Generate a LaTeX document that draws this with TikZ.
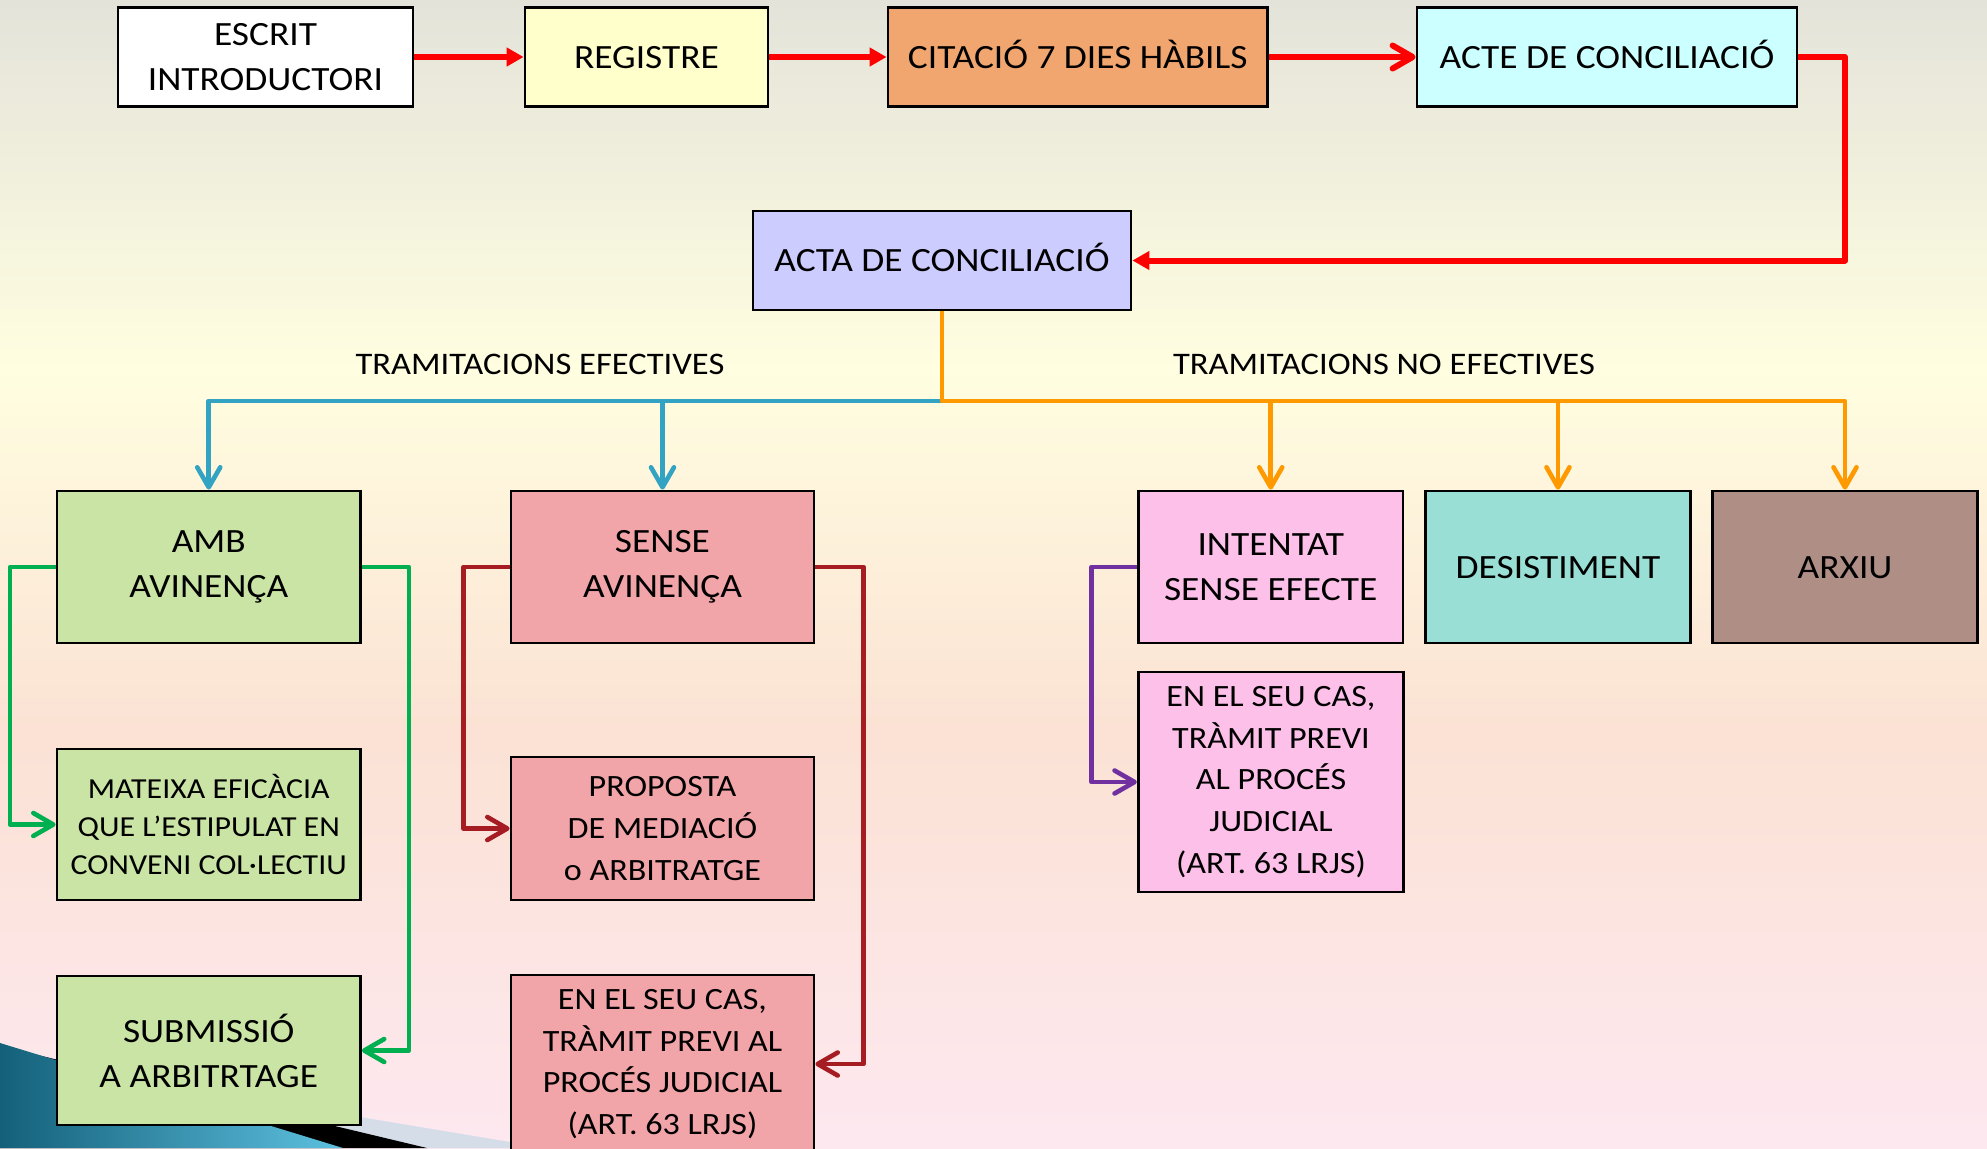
\documentclass[tikz,border=0pt]{standalone}
\usepackage{fontspec}
\setmainfont{Carlito}[FakeStretch=1.1]
\usetikzlibrary{arrows.meta}
\definecolor{bgtop}{HTML}{E4E3DA}
\definecolor{bgyellow}{HTML}{FFFEE0}
\definecolor{bgpeach}{HTML}{FBE2D4}
\definecolor{bgpink}{HTML}{FDE8F0}
\definecolor{tealdark}{HTML}{14607A}
\definecolor{teallight}{HTML}{5DC1E0}
\definecolor{decolight}{HTML}{D5DDE8}
\definecolor{cregistre}{HTML}{FFFFCC}
\definecolor{ccitacio}{HTML}{F2A66F}
\definecolor{cacte}{HTML}{CCFFFF}
\definecolor{cacta}{HTML}{CCCCFF}
\definecolor{cgreen}{HTML}{C9E4A4}
\definecolor{crose}{HTML}{F2A5A8}
\definecolor{cpink}{HTML}{FCC0E9}
\definecolor{cdesist}{HTML}{9ADFD5}
\definecolor{carxiu}{HTML}{AF8E86}
\definecolor{lred}{HTML}{FF0000}
\definecolor{lblue}{HTML}{33A3C4}
\definecolor{lorange}{HTML}{FF9900}
\definecolor{lgreen}{HTML}{00B050}
\definecolor{ldred}{HTML}{A51C22}
\definecolor{lpurple}{HTML}{7030A0}
\pgfdeclareverticalshading{bgshade}{100bp}{color(0bp)=(bgpink); color(25bp)=(bgpink); color(43.2bp)=(bgpeach); color(58.9bp)=(bgyellow); color(75bp)=(bgtop); color(100bp)=(bgtop)}
\newcommand\szA{\fontsize{17}{22.5}\selectfont}
\newcommand\szB{\fontsize{14.5}{19}\selectfont}
\newcommand\szC{\fontsize{15.5}{21}\selectfont}
\newcommand\szD{\fontsize{15.5}{20.8}\selectfont}
\newcommand\szL{\fontsize{15.7}{20}\selectfont}
\tikzset{
  box/.style={draw=black, line width=1.4pt, inner sep=0pt, align=center, font=\szA, text=black},
  oneline/.style={text height=11pt, text depth=0pt},
  lbl/.style={inner sep=0pt, font=\szL, text=black},
  redline/.style={draw=lred, line width=3pt},
  conn/.style={line width=2.3pt, line join=round},
  barb/.style={-{Straight Barb[length=10pt,width=11.5pt,round]}},
  tri/.style={-{Triangle[length=8.5pt,width=9pt]}}
}
\begin{document}
\begin{tikzpicture}[x=0.5pt,y=-0.5pt]
\useasboundingbox (0,0) rectangle (1987,1148);
\shade[shading=bgshade] (0,0) rectangle (1987,1148);
% corner decoration
\fill[decolight] (0,1057) -- (546,1148) -- (0,1148) -- cycle;
\fill[black] (0,1046) -- (427,1148) -- (0,1148) -- cycle;
\shade[left color=tealdark, right color=teallight] (0,1043) -- (343,1148) -- (0,1148) -- cycle;

% top row
\node[box, fill=white, minimum width=147.5pt, minimum height=49.5pt] (escrit) at (265.5,57) {ESCRIT\\INTRODUCTORI};
\node[box, oneline, fill=cregistre, minimum width=121.5pt, minimum height=49.5pt] (registre) at (646.5,57) {REGISTRE};
\node[box, oneline, fill=ccitacio, minimum width=189.75pt, minimum height=49.5pt] (citacio) at (1077.75,57) {CITACIÓ 7 DIES HÀBILS};
\node[box, oneline, fill=cacte, minimum width=190pt, minimum height=49.5pt] (acte) at (1607,57) {ACTE DE CONCILIACIÓ};
\node[box, oneline, fill=cacta, minimum width=189pt, minimum height=49.5pt] (acta) at (942,260.5) {ACTA DE CONCILIACIÓ};

% labels
\node[lbl] (lef) at (540,364) {TRAMITACIONS EFECTIVES};
\node[lbl] (lnoef) at (1384,364) {TRAMITACIONS NO EFECTIVES};
\coordinate (hub) at (942,401);

% row of outcomes
\node[box, fill=cgreen, minimum width=151.75pt, minimum height=76pt] (amb) at (208.75,567) {AMB\\AVINENÇA};
\node[box, fill=crose, minimum width=151.5pt, minimum height=76pt] (sense) at (662.5,567) {SENSE\\AVINENÇA};
\node[box, fill=cpink, minimum width=132.25pt, minimum height=76pt] (intentat) at (1270.75,567) {INTENTAT\\SENSE EFECTE};
\node[box, oneline, fill=cdesist, minimum width=132.25pt, minimum height=76pt] (desist) at (1558,567) {DESISTIMENT};
\node[box, oneline, fill=carxiu, minimum width=132.25pt, minimum height=76pt] (arxiu) at (1845,567) {ARXIU};

% lower boxes
\node[box, fill=cgreen, font=\szB, minimum width=151.75pt, minimum height=75.5pt] (mateixa) at (208.75,824.5) {MATEIXA EFICÀCIA\\QUE L’ESTIPULAT EN\\CONVENI COL·LECTIU};
\node[box, fill=cgreen, minimum width=151.75pt, minimum height=74.5pt] (subm) at (208.75,1050.5) {SUBMISSIÓ\\A ARBITRTAGE};
\node[box, fill=crose, font=\szC, minimum width=151.5pt, minimum height=71.5pt] (proposta) at (662.5,828.5) {PROPOSTA\\DE MEDIACIÓ\\o ARBITRATGE};
\node[box, fill=crose, font=\szD, minimum width=151.5pt, minimum height=89pt] (enelA) at (662.5,1064) {EN EL SEU CAS,\\TRÀMIT PREVI AL\\PROCÉS JUDICIAL\\(ART. 63 LRJS)};
\node[box, fill=cpink, font=\szD, minimum width=132.75pt, minimum height=110pt] (enelB) at (1271,782) {EN EL SEU CAS,\\TRÀMIT PREVI\\AL PROCÉS\\JUDICIAL\\(ART. 63 LRJS)};

% red chain
\draw[redline, tri] (escrit) -- (registre);
\draw[redline, tri] (registre) -- (citacio);
\draw[redline, barb] (citacio) -- (acte);
\draw[redline, tri, line join=round] (acte.east) -- (acte.east -| arxiu.north) |- (acta.east);

% branches
\draw[conn, draw=lblue, barb] (hub) -| (amb.north);
\draw[conn, draw=lblue, barb] (sense.north |- hub) -- (sense.north);
\draw[conn, draw=lorange, barb] (acta.south) -- (hub) -| (arxiu.north);
\draw[conn, draw=lorange, barb] (intentat.north |- hub) -- (intentat.north);
\draw[conn, draw=lorange, barb] (desist.north |- hub) -- (desist.north);

% side connectors
\draw[conn, draw=lgreen, barb] (amb.west) -- ++(-45.5,0) |- (mateixa.west);
\draw[conn, draw=lgreen, barb] (amb.east) -- ++(47,0) |- (subm.east);
\draw[conn, draw=ldred, barb] (sense.west) -- ++(-46,0) |- (proposta.west);
\draw[conn, draw=ldred, barb] (sense.east) -- ++(48,0) |- (enelA.east);
\draw[conn, draw=lpurple, barb] (intentat.west) -- ++(-45.5,0) |- (enelB.west);
\end{tikzpicture}
\end{document}
